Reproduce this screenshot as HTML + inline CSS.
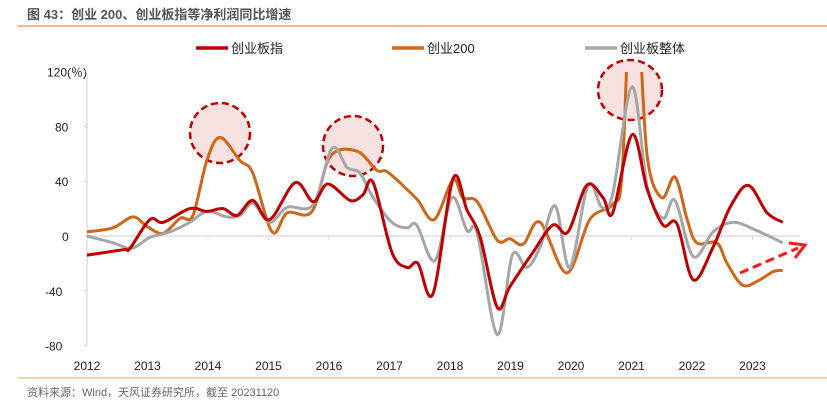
<!DOCTYPE html>
<html><head><meta charset="utf-8"><style>
body{margin:0;background:#fff;width:827px;height:404px;overflow:hidden;font-family:"Liberation Sans","Noto Sans CJK SC",sans-serif}
svg text{font-family:"Liberation Sans","Noto Sans CJK SC",sans-serif}
</style></head><body>
<svg id="c" width="827" height="404">
<text x="27" y="19" font-size="13" font-weight="bold" fill="#555">图 43：创业 200、创业板指等净利润同比增速</text>
<line x1="18" y1="26" x2="827" y2="26" stroke="#f0a060" stroke-width="1.5"/>
<line x1="18" y1="378" x2="827" y2="378" stroke="#f0a060" stroke-width="1"/>
<text x="27" y="396" font-size="11" fill="#666">资料来源：Wind，天风证券研究所，截至 20231120</text>
<g id="g"></g>
</svg>
<script>
const yTicks=[120,80,40,0,-40,-80];
const years=[2012,2013,2014,2015,2016,2017,2018,2019,2020,2021,2022,2023];
const redT=[0,.6,.71,1.04,1.26,1.7,1.98,2.25,2.48,2.74,3.02,3.44,3.74,3.98,4.35,4.56,4.73,5.04,5.29,5.47,5.72,6.05,6.28,6.5,6.78,6.99,7.37,7.7,7.95,8.26,8.53,8.69,9.01,9.26,9.52,9.75,10.02,10.35,10.63,10.93,11.24,11.5];
const redV=[-14,-10,-9,12,10,20,18,20,15,26,12,39,25,38,26,30,39,-12,-23,-20,-42,42,19,-1,-52,-37,-12,8,3,37,28,17,74,34,8,9,-32,-8,21,37,17,10];
const orT=[0,.43,.76,.99,1.26,1.54,1.75,1.98,2.2,2.53,2.74,3.06,3.31,3.72,4.02,4.46,4.79,4.96,5.29,5.47,5.74,6.05,6.21,6.45,6.78,6.99,7.21,7.49,7.93,8.31,8.69,8.84,8.95,9.01,9.12,9.26,9.5,9.72,9.92,10.08,10.41,10.58,10.84,11.12,11.34,11.5];
const orV=[3,6,14,7,2,13,15,55,72,55,46,3,17,18,58,62,48,47,34,26,12,41,28,25,-3,-2,-6,10,-27,12,23,43,160,200,160,58,28,43,12,-5,-5,-20,-36,-32,-26,-25];
const grT=[0,.43,.74,1.04,1.37,1.7,1.98,2.31,2.53,2.74,3.02,3.31,3.74,4.05,4.3,4.51,4.73,5.04,5.29,5.45,5.75,6.03,6.28,6.45,6.78,7.03,7.27,7.49,7.74,7.98,8.28,8.51,8.69,9.01,9.26,9.52,9.72,10.02,10.35,10.68,11.07,11.5];
const grV=[0,-5,-9,-1,3,10,18,14,15,24,10,21,23,64,50,46,28,10,6,8,-18,28,4,2,-72,-14,-23,-8,22,-23,37,21,31,109,36,13,26,-15,3,10,4,-5];
const X=t=>87+t*60.5, Y=v=>236-v*1.369;
const ns="http://www.w3.org/2000/svg", g=document.getElementById('g');
function mk(tag,a){const e=document.createElementNS(ns,tag);for(const k in a)e.setAttribute(k,a[k]);g.appendChild(e);return e;}
function path(ts,vs){const p=ts.map((t,i)=>[X(t),Y(vs[i])]);let d="M"+p[0];for(let i=0;i<p.length-1;i++){const a=p[i-1]||p[i],b=p[i],c=p[i+1],e=p[i+2]||c;d+=` C${b[0]+(c[0]-a[0])/6},${b[1]+(c[1]-a[1])/6} ${c[0]-(e[0]-b[0])/6},${c[1]-(e[1]-b[1])/6} ${c[0]},${c[1]}`;}return d;}
// axes
let e=mk('line',{x1:87,y1:74,x2:87,y2:345,stroke:'#ccc'});

e=mk('line',{x1:87,y1:Y(0),x2:800,y2:Y(0),stroke:'#ddd','stroke-width':1.5});

yTicks.forEach(v=>{const t=mk('text',{x:v==120?47:(v<0?45:(v==0?62:55)),y:Y(v)+5,'font-size':12,fill:'#222'});t.textContent=v==120?'120(％)':String(v);

const l=mk('line',{x1:84,y1:Y(v),x2:87,y2:Y(v),stroke:'#ccc'});});
years.forEach((yr,i)=>{const t=mk('text',{x:X(i),y:370,'font-size':12,fill:'#222','text-anchor':'middle'});t.textContent=yr;

const l=mk('line',{x1:X(i),y1:Y(0),x2:X(i),y2:Y(0)+4,stroke:'#ddd'});});
// highlight circles
[[220,133,30,30],[353,146,30,30],[630,90,32,30]].forEach(c=>{const el=mk('ellipse',{cx:c[0],cy:c[1],rx:c[2],ry:c[3],fill:'#f7e1e1',stroke:'#c00000','stroke-width':2.5,'stroke-dasharray':'7,4'});
});
// clip
const cp=mk('clipPath',{id:'clip'});const r=document.createElementNS(ns,'rect');r.setAttribute('x',80);r.setAttribute('y',72);r.setAttribute('width',740);r.setAttribute('height',300);cp.appendChild(r);
[[orT,orV,'#d0661a','series-cyb200'],[grT,grV,'#a6a6a6','series-cyb-overall'],[redT,redV,'#c00000','series-cyb-index']].forEach(s=>{const p=mk('path',{d:path(s[0],s[1]),fill:'none',stroke:s[2],'stroke-width':3,'clip-path':'url(#clip)'});
});
// arrow
e=mk('line',{x1:740,y1:273,x2:798,y2:248,stroke:'#ff1a1a','stroke-width':3,'stroke-dasharray':'9,5'});

e=mk('polyline',{points:'789,243 805,245 795,258',fill:'none',stroke:'#ff1a1a','stroke-width':3});

// legend
[[196,'#c00000','创业板指'],[392,'#d0661a','创业200'],[585,'#a6a6a6','创业板整体']].forEach(l=>{const ln=mk('line',{x1:l[0],y1:48,x2:l[0]+32,y2:48,stroke:l[1],'stroke-width':3.5});

const t=mk('text',{x:l[0]+35,y:53,'font-size':13,fill:'#222'});t.textContent=l[2];
});
</script>
</body></html>
